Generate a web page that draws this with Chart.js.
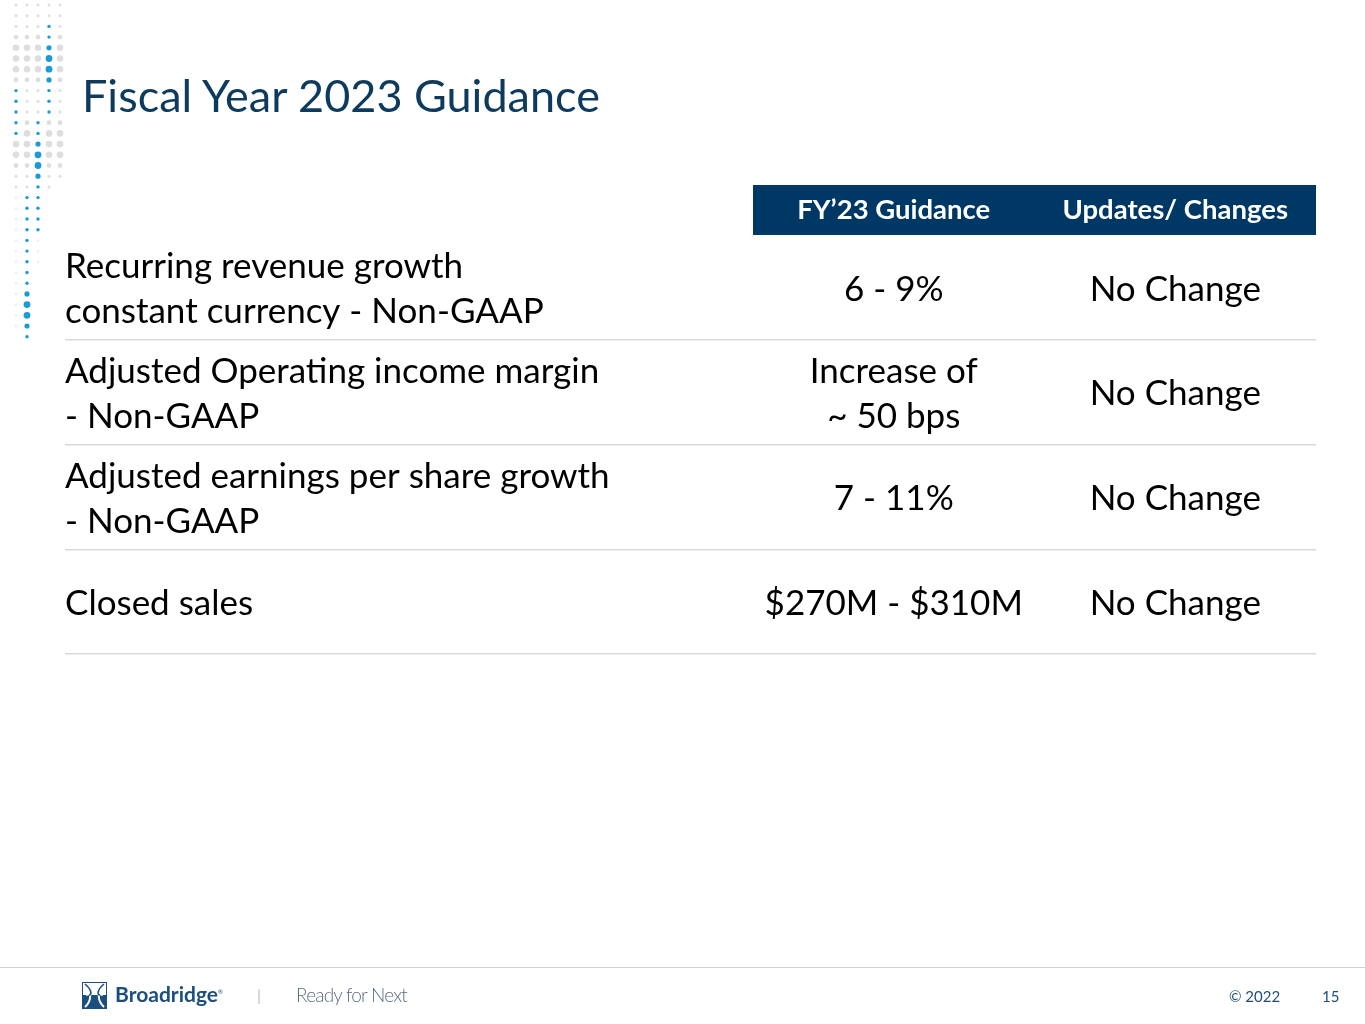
<!DOCTYPE html>
<html>
<head>
<meta charset="utf-8">
<script src="https://cdn.jsdelivr.net/npm/chart.js@4.4.0/dist/chart.umd.min.js"></script>
<style>
  html, body { margin: 0; padding: 0; background: #fff; }
  #slide { position: relative; width: 1365px; height: 1024px; overflow: hidden; font-family: Lato, "Open Sans", sans-serif; }
  #chart, #dots { position: absolute; left: 0; top: 0; }
  #title { position: absolute; left: 82px; top: 68px; font-size: 45px; color: #0d3a5d; white-space: nowrap; }
  #footLine { position: absolute; left: 0; top: 967px; width: 1365px; height: 1px; background: #d2d2d2; }
  #logo { position: absolute; left: 82px; top: 982px; }
  #brand { position: absolute; left: 115px; top: 981px; font-size: 21px; font-weight: 700; color: #1b4f80; }
  #brand sup { font-size: 6px; font-weight: 400; vertical-align: 8px; }
  #sep { position: absolute; left: 257px; top: 985px; font-size: 16px; color: #b8c0c8; }
  #tagline { position: absolute; left: 296px; top: 983px; font-size: 19px; font-weight: 300; color: #5b6d80; letter-spacing: -0.8px; }
  #copy { position: absolute; left: 1229px; top: 987px; font-size: 15px; color: #1f4e79; }
  #page { position: absolute; left: 1322px; top: 987px; font-size: 15px; color: #1f4e79; }
</style>
</head>
<body>
<div id="slide">
  <canvas id="dots" width="80" height="360"></canvas>
  <canvas id="chart" width="1365" height="1024"></canvas>
  <div id="title">Fiscal Year 2023 Guidance</div>
  <div id="footLine"></div>
  <svg id="logo" width="25" height="27" viewBox="0 0 25 27">
    <rect x="0.5" y="0.5" width="24" height="26" fill="#fff" stroke="#1b4f80" stroke-width="1"/>
    <rect x="0" y="13" width="25" height="14" fill="#1b4f80"/>
    <path d="M3 2 C10 8, 10 19, 3 25 M22 2 C15 8, 15 19, 22 25 M4 13 C9 11, 16 11, 21 13" fill="none" stroke="#fff" stroke-width="2"/>
    <path d="M3 2 C10 8, 10 13, 7 13 M22 2 C15 8, 15 13, 18 13" fill="none" stroke="#1b4f80" stroke-width="1.6"/>
  </svg>
  <div id="brand">Broadridge<sup>®</sup></div>
  <div id="sep">|</div>
  <div id="tagline">Ready for Next</div>
  <div id="copy">© 2022</div>
  <div id="page">15</div>
</div>
<script>
// table content
const rowLabels = [
  ['Recurring revenue growth', 'constant currency - Non-GAAP'],
  ['Adjusted Operating income margin', '- Non-GAAP'],
  ['Adjusted earnings per share growth', '- Non-GAAP'],
  ['Closed sales']
];
const columnHeaders = ['FY’23 Guidance', 'Updates/ Changes'];
const guidanceValues = [['6 - 9%'], ['Increase of', '~ 50 bps'], ['7 - 11%'], ['$270M - $310M']];
const updateValues = [['No Change'], ['No Change'], ['No Change'], ['No Change']];

const NAVY = '#003865';
const FONT = 'Lato';
const BODY_SIZE = 35;
const LINE_H = 45;
const NUDGE = 2;

// decorative dot pattern, top left corner
(function drawDots() {
  const ctx = document.getElementById('dots').getContext('2d');
  const cols = [16, 27, 38, 49, 60];
  const step = 10.7;
  const grey = '#dedede';
  const blue = '#1a9ad6';
  const blueRuns = [
    { col: 3, from: 2, to: 10, big: [5, 6] },
    { col: 0, from: 8, to: 12, big: [] },
    { col: 2, from: 11, to: 21, big: [14, 15] },
    { col: 1, from: 18, to: 31, big: [28, 29] }
  ];
  const isBlue = {};
  blueRuns.forEach(r => {
    for (let i = r.from; i <= r.to; i++) isBlue[r.col + ':' + i] = r;
  });
  for (let c = 0; c < cols.length; c++) {
    const maxRow = [30, 26, 24, 17, 16][c];
    for (let i = 0; i <= maxRow; i++) {
      if (isBlue[c + ':' + i]) continue;
      const y = 5 + i * step;
      let r = 1.5;
      if ((i >= 4 && i <= 6) || (i >= 12 && i <= 14)) r = 3.3;
      else if ((i >= 3 && i <= 7) || (i >= 11 && i <= 15)) r = 2.4;
      if (i > 17) r = 1.2;
      ctx.fillStyle = i > 17 ? '#ececec' : grey;
      ctx.beginPath();
      ctx.arc(cols[c], y, r, 0, Math.PI * 2);
      ctx.fill();
    }
  }
  blueRuns.forEach(run => {
    for (let i = run.from; i <= run.to; i++) {
      const y = 5 + i * step;
      let r = 1.7;
      if (run.big.includes(i)) r = 3.4;
      else if (run.big.includes(i - 1) || run.big.includes(i + 1)) r = 2.6;
      ctx.fillStyle = blue;
      ctx.beginPath();
      ctx.arc(cols[run.col], y, r, 0, Math.PI * 2);
      ctx.fill();
    }
  });
})();

// header band behind the top axis and the cell texts
const tablePlugin = {
  id: 'tablePlugin',
  beforeDraw(chart) {
    const x = chart.scales.x;
    const ctx = chart.ctx;
    ctx.save();
    ctx.fillStyle = NAVY;
    ctx.fillRect(x.left, x.top, x.right - x.left, x.bottom - x.top);
    ctx.restore();
  },
  afterDatasetsDraw(chart) {
    const ctx = chart.ctx;
    ctx.save();
    ctx.font = BODY_SIZE + 'px ' + FONT;
    ctx.fillStyle = '#000';
    ctx.textAlign = 'center';
    ctx.textBaseline = 'middle';
    chart.data.datasets.forEach((ds, di) => {
      chart.getDatasetMeta(di).data.forEach((pt, i) => {
        const lines = ds.data[i].text;
        const y0 = pt.y + NUDGE - (lines.length - 1) * LINE_H / 2;
        lines.forEach((t, k) => ctx.fillText(t, pt.x, y0 + k * LINE_H));
      });
    });
    ctx.restore();
  }
};

new Chart(document.getElementById('chart'), {
  type: 'scatter',
  data: {
    datasets: [
      {
        label: columnHeaders[0],
        parsing: false,
        data: guidanceValues.map((v, i) => ({ x: 0, y: i, text: v })),
        pointRadius: 0
      },
      {
        label: columnHeaders[1],
        parsing: false,
        data: updateValues.map((v, i) => ({ x: 1, y: i, text: v })),
        pointRadius: 0
      }
    ]
  },
  options: {
    responsive: false,
    animation: false,
    events: [],
    layout: { padding: { left: 65, right: 49, top: 185, bottom: 370 } },
    plugins: {
      legend: { display: false },
      tooltip: { enabled: false }
    },
    scales: {
      x: {
        type: 'category',
        position: 'top',
        labels: columnHeaders,
        offset: true,
        grid: { display: false, drawTicks: false },
        border: { display: false },
        ticks: {
          color: '#fff',
          padding: 8,
          maxRotation: 0,
          font: { family: FONT, size: 27.5, weight: 'bold' }
        },
        afterFit(scale) { scale.height = 50; }
      },
      y: {
        type: 'category',
        labels: rowLabels,
        offset: true,
        grid: {
          offset: true,
          drawTicks: true,
          tickLength: 688,
          lineWidth: 1.5,
          color: ctx => ctx.index === 0 ? 'rgba(0,0,0,0)' : '#d9d9d9'
        },
        border: { display: false },
        ticks: {
          color: '#000',
          crossAlign: 'far',
          padding: 0,
          labelOffset: NUDGE,
          font: { family: FONT, size: BODY_SIZE, lineHeight: LINE_H / BODY_SIZE }
        },
        afterFit(scale) { scale.width = 688; }
      }
    }
  },
  plugins: [tablePlugin]
});
</script>
</body>
</html>
